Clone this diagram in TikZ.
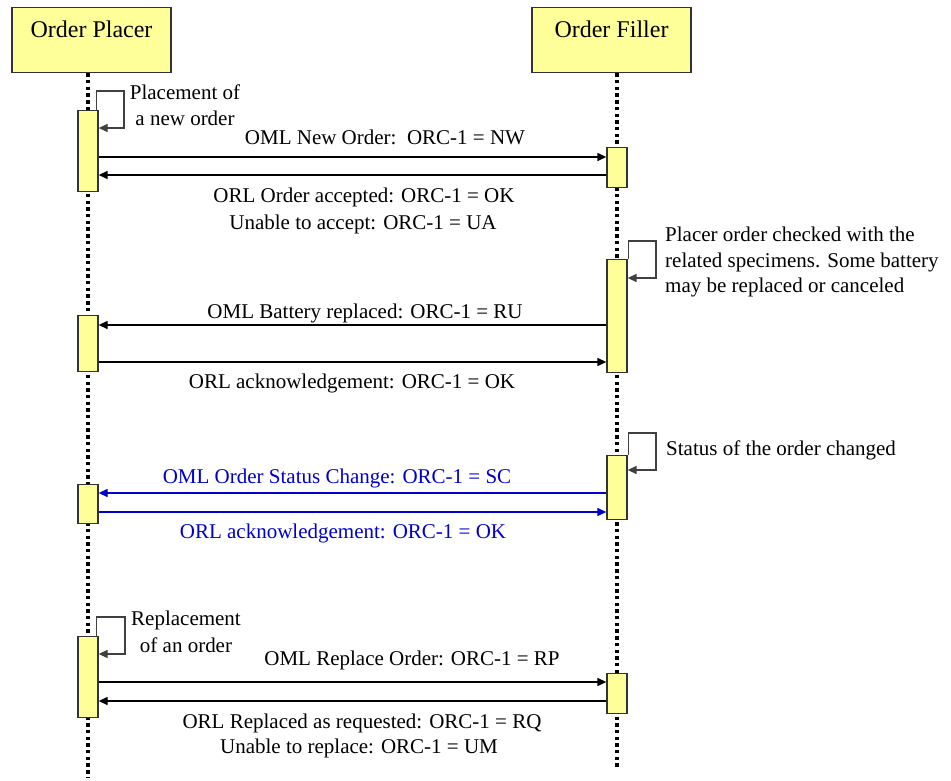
\documentclass[tikz,border=0pt]{standalone}
\usepackage{fontspec}
\setmainfont{Liberation Serif}
\usetikzlibrary{arrows.meta}
\definecolor{boxfill}{HTML}{FFFF99}
\definecolor{msgblue}{HTML}{0000CC}
\definecolor{loopgray}{HTML}{404040}
\begin{document}
\begin{tikzpicture}[x=1pt,y=-1pt,
  header/.style={draw=black!80, line width=1.3pt, fill=boxfill, minimum width=159pt,
    inner xsep=0pt, inner ysep=0pt, text height=30pt, text depth=35pt, anchor=north,
    font=\fontsize{24}{28}\selectfont},
  lifeline/.style={line width=3.6pt, dash pattern=on 3.4pt off 3.3pt},
  act/.style={draw=black!80, line width=1.3pt, fill=boxfill, minimum width=20pt,
    inner sep=0pt, anchor=north},
  msg/.style={line width=1.3pt, -{Triangle[length=9pt,width=8pt]}},
  selfloop/.style={draw=loopgray, line width=1.3pt, -{Triangle[length=9pt,width=8pt]}},
  lbl/.style={font=\fontsize{21}{26}\selectfont, inner sep=0pt, anchor=base},
  note/.style={font=\fontsize{21}{26}\selectfont, inner sep=0pt},
]
\useasboundingbox (0,0) rectangle (951,780);

% headers
\node[header] (ph) at (91.5,7) {Order Placer};
\node[header] (fh) at (611.5,7) {Order Filler};

% lifelines
\coordinate (pend) at (88,777);
\coordinate (fend) at (617,770);
\draw[lifeline] (ph.south -| pend) -- (pend);
\draw[lifeline] (fh.south -| fend) -- (fend);

% activation boxes
\node[act, minimum height=81pt] (pa1) at (88,110) {};
\node[act, minimum height=56pt] (pa2) at (88,315) {};
\node[act, minimum height=39pt] (pa3) at (88,484) {};
\node[act, minimum height=81pt] (pa4) at (88,636) {};
\node[act, minimum height=40pt] (fa1) at (617,147) {};
\node[act, minimum height=113pt] (fa2) at (617,259) {};
\node[act, minimum height=64pt] (fa3) at (617,455) {};
\node[act, minimum height=40pt] (fa4) at (617,673) {};

% self loops
\draw[selfloop] ([xshift=-2pt]pa1.north east) |- (124,91) |- (pa1.east |- 0,128);
\draw[selfloop] ([xshift=1pt]fa2.north east) |- (656,241) |- (fa2.east |- 0,278);
\draw[selfloop] ([xshift=1pt]fa3.north east) |- (656,433) |- (fa3.east |- 0,470);
\draw[selfloop] ([xshift=-2pt]pa4.north east) |- (125,617) |- (pa4.east |- 0,654);

% notes
\node[note, anchor=base] at (185,99) {Placement of};
\node[note, anchor=base] at (185,125) {a new order};
\node[note, anchor=base west] at (665,241) {Placer order checked with the};
\node[note, anchor=base west] at (665,267) {related specimens. Some battery};
\node[note, anchor=base west] at (665,292) {may be replaced or canceled};
\node[note, anchor=base west] at (666,455) {Status of the order changed};
\node[note, anchor=base] at (186,625) {Replacement};
\node[note, anchor=base] at (186,652) {of an order};

% messages
\draw[msg] (pa1.east |- 0,157) -- (fa1.west |- 0,157);
\draw[msg] (fa1.west |- 0,175) -- (pa1.east |- 0,175);
\draw[msg] (fa2.west |- 0,325) -- (pa2.east |- 0,325);
\draw[msg] (pa2.east |- 0,362) -- (fa2.west |- 0,362);
\draw[msg, msgblue] (fa3.west |- 0,493) -- (pa3.east |- 0,493);
\draw[msg, msgblue] (pa3.east |- 0,512) -- (fa3.west |- 0,512);
\draw[msg] (pa4.east |- 0,682) -- (fa4.west |- 0,682);
\draw[msg] (fa4.west |- 0,701) -- (pa4.east |- 0,701);

% message labels
\node[lbl] at (385,144) {OML New Order:\ \ ORC-1 = NW};
\node[lbl] at (364,202) {ORL Order accepted: ORC-1 = OK};
\node[lbl] at (363,229) {Unable to accept: ORC-1 = UA};
\node[lbl] at (365,318) {OML Battery replaced: ORC-1 = RU};
\node[lbl] at (352,388) {ORL acknowledgement: ORC-1 = OK};
\node[lbl, text=msgblue] at (337,483) {OML Order Status Change: ORC-1 = SC};
\node[lbl, text=msgblue] at (343,538) {ORL acknowledgement: ORC-1 = OK};
\node[lbl] at (412,665) {OML Replace Order: ORC-1 = RP};
\node[lbl] at (362,728) {ORL Replaced as requested: ORC-1 = RQ};
\node[lbl] at (359,753) {Unable to replace: ORC-1 = UM};
\end{tikzpicture}
\end{document}
